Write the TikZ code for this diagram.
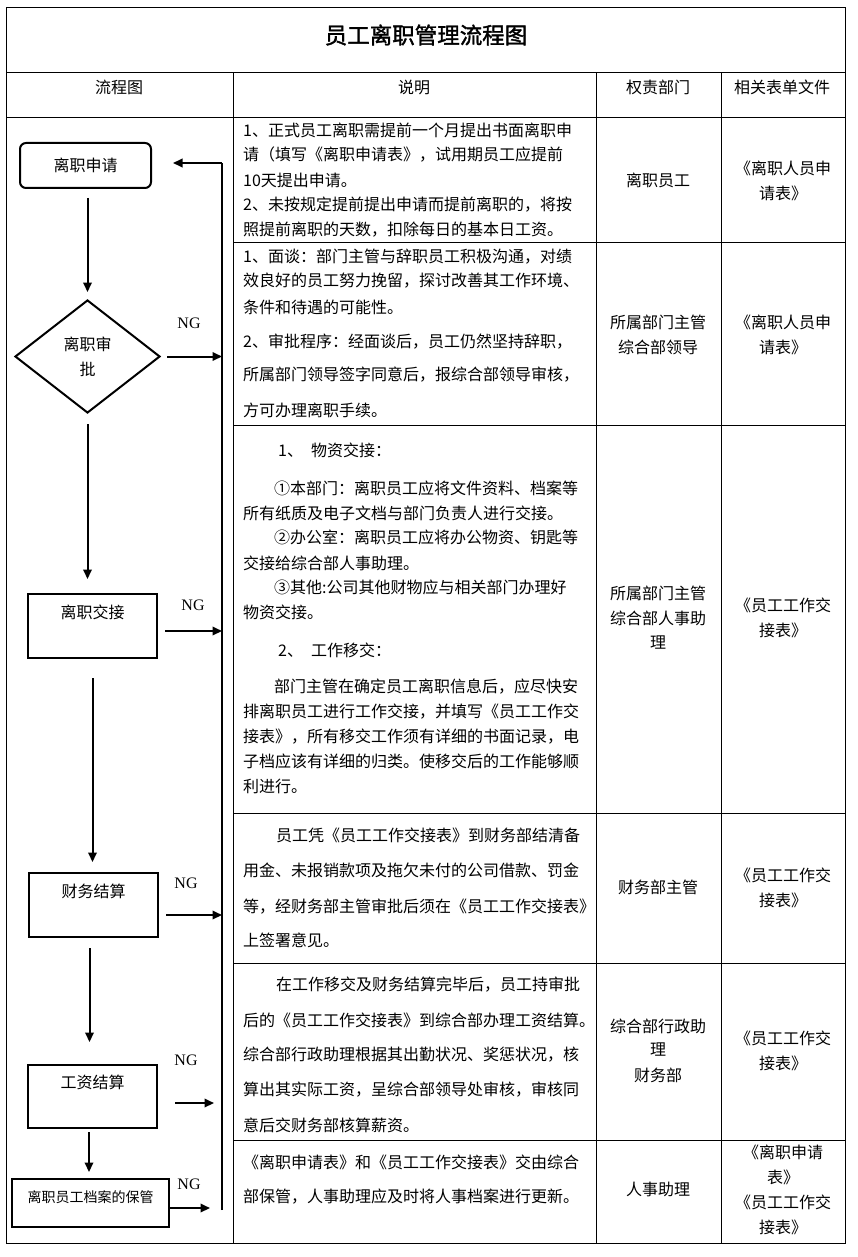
\documentclass[tikz,border=0pt]{standalone}
\usepackage{fontspec}
\setmainfont{Noto Sans CJK SC}
\newfontfamily\ngfont{Liberation Serif}
\newfontfamily\titlefont[BoldFont=*,BoldFeatures={FakeBold=1.6}]{Noto Sans CJK SC}
\usetikzlibrary{arrows.meta,shapes.geometric}
\XeTeXlinebreaklocale "zh"
\XeTeXlinebreakskip=0pt plus 1pt
\newcommand\txtL[4]{\node[txt,anchor=west] (#1) at (#2,#3) {#4};}
\newcommand\txtJ[5]{\node[txt,anchor=west] (#1) at (#2,#3) {\makebox[#4pt][s]{#5}};}
\newcommand\txtC[4]{\node[txt] (#1) at (#2,#3) {#4};}
\begin{document}
\begin{tikzpicture}[x=1pt,y=-1pt,
  txt/.style={inner sep=0pt,font=\fontsize{16}{19}\selectfont},
  tbl/.style={line width=1pt},
  flow/.style={draw,line width=2pt,inner sep=0pt,font=\fontsize{16}{19}\selectfont},
  conn/.style={line width=2pt},
  arr/.style={line width=2pt,-{Triangle[length=9.5pt,width=8.5pt]}},
  ng/.style={inner sep=0pt,font=\ngfont\fontsize{16}{18}\selectfont}]
\useasboundingbox (0,0) rectangle (857,1257);
% table
\draw[tbl] (6,8) rectangle (845,1243);
\draw[tbl] (6,73) -- (845,73);
\draw[tbl] (6,118) -- (845,118);
\draw[tbl] (233,73) -- (233,1243);
\draw[tbl] (596,73) -- (596,1243);
\draw[tbl] (721,73) -- (721,1243);
\foreach \yy in {243,425,813,963,1140} \draw[tbl] (233,\yy) -- (845,\yy);
% title and header
\node[inner sep=0pt,font=\titlefont\bfseries\fontsize{22.5}{26}\selectfont] (title) at (426,35) {员工离职管理流程图};
\txtC{h1}{119}{87}{流程图}
\txtC{h2}{414}{87}{说明}
\txtC{h3}{658}{87}{权责部门}
\txtC{h4}{782}{87}{相关表单文件}
% row 1
\txtJ{a1}{243}{130}{348}{1、正式员工离职需提前一个月提出书面离职申}
\txtJ{a2}{243}{155}{348}{请（填写《离职申请表》，试用期员工应提前}
\txtL{a3}{243}{180}{10天提出申请。}
\txtJ{a4}{243}{205}{348}{2、未按规定提前提出申请而提前离职的，将按}
\txtJ{a5}{243}{230}{335}{照提前离职的天数，扣除每日的基本日工资。}
% row 2
\txtJ{b1}{243}{257}{348}{1、面谈：部门主管与辞职员工积极沟通，对绩}
\txtJ{b2}{243}{281}{348}{效良好的员工努力挽留，探讨改善其工作环境、}
\txtL{b3}{243}{307}{条件和待遇的可能性。}
\txtJ{b4}{243}{342}{348}{2、审批程序：经面谈后，员工仍然坚持辞职，}
\txtJ{b5}{243}{375}{348}{所属部门领导签字同意后，报综合部领导审核，}
\txtL{b6}{243}{410}{方可办理离职手续。}
% row 3
\txtL{c1}{278}{450}{1、\hspace{8pt}物资交接：}
\txtJ{c2}{274}{488}{315}{①本部门：离职员工应将文件资料、档案等}
\txtJ{c3}{243}{513}{333}{所有纸质及电子文档与部门负责人进行交接。}
\txtJ{c4}{274}{537}{315}{②办公室：离职员工应将办公物资、钥匙等}
\txtL{c5}{243}{563}{交接给综合部人事助理。}
\txtJ{c6}{274}{587}{315}{③其他:公司其他财物应与相关部门办理好}
\txtL{c7}{243}{612}{物资交接。}
\txtL{c8}{278}{650}{2、\hspace{8pt}工作移交：}
\txtJ{c9}{274}{687}{315}{部门主管在确定员工离职信息后，应尽快安}
\txtJ{c10}{243}{712}{348}{排离职员工进行工作交接，并填写《员工工作交}
\txtJ{c11}{243}{737}{348}{接表》，所有移交工作须有详细的书面记录，电}
\txtJ{c12}{243}{761}{348}{子档应该有详细的归类。使移交后的工作能够顺}
\txtL{c13}{243}{786}{利进行。}
% row 4
\txtJ{d1}{276}{835}{313}{员工凭《员工工作交接表》到财务部结清备}
\txtJ{d2}{243}{870}{348}{用金、未报销款项及拖欠未付的公司借款、罚金}
\txtL{d3}{243}{907}{等，经财务部主管审批后须在《员工工作交接表》}
\txtL{d4}{243}{940}{上签署意见。}
% row 5
\txtJ{e1}{276}{985}{313}{在工作移交及财务结算完毕后，员工持审批}
\txtL{e2}{243}{1020}{后的《员工工作交接表》到综合部办理工资结算。}
\txtJ{e3}{243}{1055}{348}{综合部行政助理根据其出勤状况、奖惩状况，核}
\txtJ{e4}{243}{1090}{348}{算出其实际工资，呈综合部领导处审核，审核同}
\txtL{e5}{243}{1125}{意后交财务部核算薪资。}
% row 6
\txtJ{f1}{243}{1162}{348}{《离职申请表》和《员工工作交接表》交由综合}
\txtJ{f2}{243}{1197}{348}{部保管，人事助理应及时将人事档案进行更新。}
% departments
\txtC{p1}{658}{180}{离职员工}
\txtC{p2}{658}{322}{所属部门主管}
\txtC{p3}{658}{347}{综合部领导}
\txtC{p4}{658}{593}{所属部门主管}
\txtC{p5}{658}{618}{综合部人事助}
\txtC{p6}{658}{643}{理}
\txtC{p7}{658}{887}{财务部主管}
\txtC{p8}{658}{1026}{综合部行政助}
\txtC{p9}{658}{1050}{理}
\txtC{p10}{658}{1075}{财务部}
\txtC{p11}{658}{1189}{人事助理}
% forms
\txtC{q1}{783}{168}{《离职人员申}
\txtC{q2}{783}{193}{请表》}
\txtC{q3}{783}{322}{《离职人员申}
\txtC{q4}{783}{347}{请表》}
\txtC{q5}{783}{605}{《员工工作交}
\txtC{q6}{783}{630}{接表》}
\txtC{q7}{783}{875}{《员工工作交}
\txtC{q8}{783}{900}{接表》}
\txtC{q9}{783}{1038}{《员工工作交}
\txtC{q10}{783}{1063}{接表》}
\txtC{q11}{783}{1152}{《离职申请}
\txtC{q12}{783}{1177}{表》}
\txtC{q13}{783}{1202}{《员工工作交}
\txtC{q14}{783}{1227}{接表》}
% flowchart nodes
\node[flow,rounded corners=6pt,minimum width=131pt,minimum height=45pt] (apply) at (85.5,165.5) {离职申请};
\node[flow,diamond,minimum width=145pt,minimum height=113pt,align=center,font=\fontsize{16}{25}\selectfont] (review) at (87.5,356.5) {离职审\\批};
\node[flow,minimum width=129pt,minimum height=64pt] (handover) at (92.5,626) {};
\node[txt] (handoverT) at ([yshift=-19pt]handover.north) {离职交接};
\node[flow,minimum width=129pt,minimum height=64pt] (finance) at (93.5,905) {};
\node[txt] (financeT) at ([yshift=-19pt]finance.north) {财务结算};
\node[flow,minimum width=129pt,minimum height=63pt] (salary) at (92.5,1096.5) {};
\node[txt] (salaryT) at ([yshift=-18pt]salary.north) {工资结算};
\node[flow,minimum width=157pt,minimum height=48pt] (archive) at (90.5,1203) {};
\node[txt,font=\fontsize{14}{16}\selectfont] (archiveT) at ([yshift=-19pt]archive.north) {离职员工档案的保管};
% main connectors
\draw[arr,shorten <=9pt,shorten >=7pt] (review.north |- apply.south) -- (review.north);
\draw[arr,shorten <=10pt,shorten >=14pt] (review.south) -- (review.south |- handover.north);
\draw[arr,shorten <=19pt,shorten >=10pt] (handover.south) -- (handover.south |- finance.north);
\draw[arr,shorten <=10pt,shorten >=22pt] ([xshift=-4pt]finance.south) -- ([xshift=-4pt]finance.south |- salary.north);
\draw[arr,shorten <=3pt,shorten >=6pt] ([xshift=-3.5pt]salary.south) -- ([xshift=-3.5pt]salary.south |- archive.north);
% NG return
\coordinate (rtop) at (222,163);
\coordinate (rbot) at (222,1210);
\draw[conn] (rbot) -- (rtop);
\draw[arr,shorten >=21pt] (rtop) -- (rtop -| apply.east);
\draw[arr,shorten <=6pt] (review.east) -- (review.east -| rtop);
\draw[arr,shorten <=7pt] ([yshift=-5pt]handover.east) -- ([yshift=-5pt]handover.east -| rtop);
\draw[arr,shorten <=7pt] ([yshift=-10pt]finance.east) -- ([yshift=-10pt]finance.east -| rtop);
\draw[arr,shorten <=17pt,shorten >=8pt] ([yshift=-6.5pt]salary.east) -- ([yshift=-6.5pt]salary.east -| rtop);
\draw[arr,shorten >=12pt] ([yshift=-5pt]archive.east) -- ([yshift=-5pt]archive.east -| rtop);
% NG labels
\node[ng] (ng1) at (189,323) {NG};
\node[ng] (ng2) at (193,605) {NG};
\node[ng] (ng3) at (186,883) {NG};
\node[ng] (ng4) at (186,1060) {NG};
\node[ng] (ng5) at (189,1184) {NG};
\end{tikzpicture}
\end{document}
